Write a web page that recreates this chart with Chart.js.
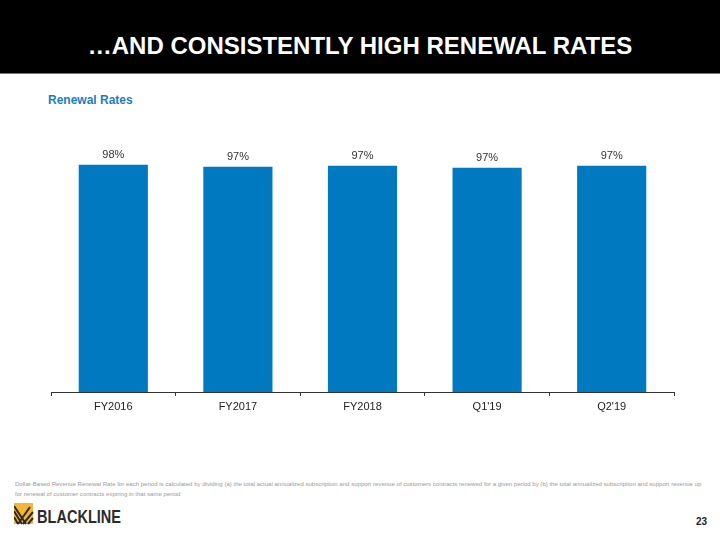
<!DOCTYPE html>
<html>
<head>
<meta charset="utf-8">
<script src="https://cdn.jsdelivr.net/npm/chart.js@4.4.0/dist/chart.umd.min.js"></script>
<style>
  html, body { margin: 0; padding: 0; background: #fff; }
  body { width: 720px; height: 540px; position: relative; overflow: hidden; font-family: "Liberation Sans", Arial, sans-serif; }
  .header { position: absolute; left: 0; top: 0; width: 720px; height: 73px; background: #000; border-bottom: 1px solid #777; }
  .header h1 { position: absolute; left: 0; top: 32px; width: 720px; margin: 0; color: #fff; font-size: 24px; font-weight: bold; text-align: center; line-height: 28px; letter-spacing: 0; }
  .subtitle { position: absolute; left: 48px; top: 93px; color: #1a7dc4; font-size: 12px; font-weight: bold; }
  .chart-box { position: absolute; left: 0; top: 110px; width: 720px; height: 322px; }
  .note { position: absolute; left: 15px; top: 479px; color: #9a9a9a; font-size: 6.05px; line-height: 10px; white-space: nowrap; }
  .logo { position: absolute; left: 14px; top: 503px; }
  .page { position: absolute; left: 696px; top: 516px; font-size: 10px; font-weight: bold; color: #222; }
</style>
</head>
<body>
<div class="header"><h1>…AND CONSISTENTLY HIGH RENEWAL RATES</h1></div>
<div class="subtitle">Renewal Rates</div>
<div class="chart-box"><canvas id="renewalChart"></canvas></div>
<div class="note">Dollar-Based Revenue Renewal Rate for each period is calculated by dividing (a) the total actual annualized subscription and support revenue of customers contracts renewed for a given period by (b) the total annualized subscription and support revenue up<br>for renewal of customer contracts expiring in that same period</div>
<svg class="logo" width="112" height="24" viewBox="0 0 112 24">
  <rect x="0" y="0" width="19" height="21" fill="#f5b731"/>
  <path d="M0 8 L8 21 M0 14 L4 21 M4 21 L16 4 M9 21 L19 9 M14 21 L19 15 M0 3 L12 21" stroke="#2b2b2b" stroke-width="2" fill="none"/>
  <text x="23" y="20" font-family="Liberation Sans, Arial, sans-serif" font-weight="bold" font-size="17.5" fill="#2b2b2b" textLength="84" lengthAdjust="spacingAndGlyphs">BLACKLINE</text>
</svg>
<div class="page">23</div>

<script>
// chart values
const categories = ['FY2016', 'FY2017', 'FY2018', "Q1'19", "Q2'19"];
const renewalRates = [98.0, 97.1, 97.5, 96.7, 97.5];
const rateLabels = ['98%', '97%', '97%', '97%', '97%'];

// draws the % label over each bar
const valueLabels = {
  id: 'valueLabels',
  afterDatasetsDraw(chart) {
    const ctx = chart.ctx;
    const meta = chart.getDatasetMeta(0);
    ctx.save();
    ctx.font = '11px "Liberation Sans", Arial, sans-serif';
    ctx.fillStyle = '#333';
    ctx.textAlign = 'center';
    ctx.textBaseline = 'bottom';
    meta.data.forEach((bar, i) => {
      ctx.fillText(rateLabels[i], bar.x, bar.y - 4);
    });
    ctx.restore();
  }
};

const ctx = document.getElementById('renewalChart').getContext('2d');
new Chart(ctx, {
  type: 'bar',
  data: {
    labels: categories,
    datasets: [{
      data: renewalRates,
      backgroundColor: '#0079c1',
      borderWidth: 0,
      barPercentage: 0.555,
      categoryPercentage: 1
    }]
  },
  options: {
    responsive: true,
    maintainAspectRatio: false,
    animation: false,
    layout: { padding: { left: 51, right: 46, top: 50, bottom: 0 } },
    plugins: {
      legend: { display: false },
      tooltip: { enabled: false }
    },
    scales: {
      y: { display: false, min: 0, max: 100 },
      x: {
        grid: { display: true, drawOnChartArea: false, drawTicks: true, tickLength: 4, color: '#333', offset: true },
        border: { display: true, color: '#333', width: 1 },
        ticks: { color: '#222', padding: 4, font: { family: '"Liberation Sans", Arial, sans-serif', size: 11 } },
        afterFit(scale) { scale.height = 40; }
      }
    }
  },
  plugins: [valueLabels]
});
</script>
</body>
</html>
